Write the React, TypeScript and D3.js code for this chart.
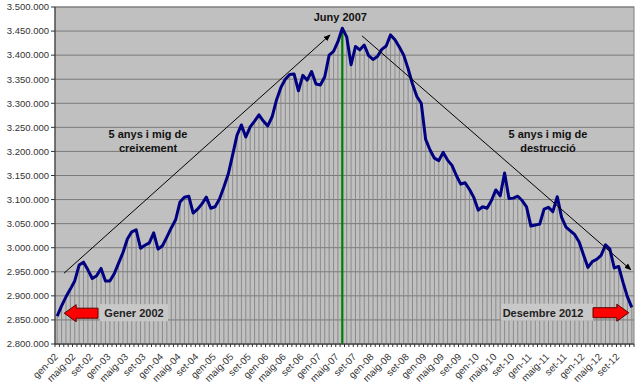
import React from "react";
import * as d3 from "d3";

const monthNames = ["gen", "febr", "març", "abr", "maig", "juny", "jul", "ag", "set", "oct", "nov", "des"];
const years = ["02", "03", "04", "05", "06", "07", "08", "09", "10", "11", "12"];
const categories: string[] = years.flatMap((y) => monthNames.map((m) => `${m}-${y}`));

const values: number[] = [
  2858000, 2879000, 2898000, 2914000, 2931000, 2964000, 2970000, 2954000, 2936000, 2942000, 2957000, 2931000,
  2931000, 2946000, 2968000, 2990000, 3018000, 3033000, 3037000, 2999000, 3005000, 3010000, 3031000, 2997000,
  3004000, 3022000, 3041000, 3058000, 3095000, 3105000, 3107000, 3072000, 3080000, 3091000, 3105000, 3082000,
  3085000, 3101000, 3126000, 3153000, 3193000, 3234000, 3255000, 3230000, 3251000, 3263000, 3276000, 3263000,
  3253000, 3272000, 3307000, 3333000, 3350000, 3360000, 3361000, 3326000, 3358000, 3348000, 3366000, 3340000,
  3338000, 3355000, 3400000, 3408000, 3428000, 3456000, 3438000, 3380000, 3418000, 3411000, 3421000, 3399000,
  3391000, 3397000, 3412000, 3419000, 3442000, 3432000, 3417000, 3400000, 3372000, 3340000, 3314000, 3300000,
  3225000, 3203000, 3186000, 3181000, 3198000, 3182000, 3171000, 3150000, 3132000, 3135000, 3121000, 3104000,
  3078000, 3085000, 3082000, 3098000, 3120000, 3108000, 3155000, 3102000, 3103000, 3107000, 3098000, 3085000,
  3045000, 3047000, 3049000, 3080000, 3084000, 3075000, 3106000, 3063000, 3043000, 3035000, 3027000, 3012000,
  2985000, 2959000, 2971000, 2976000, 2984000, 3006000, 2997000, 2958000, 2961000, 2928000, 2898000, 2876000,
];

const yTicks: number[] = d3.range(2800000, 3500001, 50000);
const peakLabel = "Juny 2007";
const peakIndex = 65;
const startLabel = "Gener 2002";
const endLabel = "Desembre 2012";
const growthText = ["5 anys i mig de", "creixement"];
const declineText = ["5 anys i mig de", "destrucció"];

const W = 640;
const H = 392;
const M = { left: 55, top: 7, right: 6, bottom: 48 };

const fmt = (v: number) => d3.format(",")(v).replace(/,/g, ".");

export default function App() {
  const x = d3
    .scaleBand<number>()
    .domain(values.map((_, i) => i))
    .range([M.left, W - M.right])
    .padding(0);
  const bw = x.bandwidth();
  const cx = (i: number) => (x(i) as number) + bw / 2;
  const y = d3.scaleLinear().domain([2800000, 3500000]).range([H - M.bottom, M.top]);
  const bottom = H - M.bottom;
  const line = d3
    .line<number>()
    .x((_, i) => cx(i))
    .y((d) => y(d));

  const font = "Arial, 'Liberation Sans', sans-serif";

  const a1 = { x1: cx(0) + bw * 1.55, y1: y(2947000), x2: cx(0) + bw * 62.2, y2: y(3442000) };
  const a2 = { x1: cx(0) + bw * 69.5, y1: y(3440000), x2: cx(0) + bw * 130.8, y2: y(2954000) };

  const arrowLeft = (tipX: number, tailX: number, cy: number) => {
    const head = 12;
    const hh = 8.5;
    const bh = 5;
    return `M${tipX},${cy} L${tipX + head},${cy - hh} L${tipX + head},${cy - bh} L${tailX},${cy - bh} L${tailX},${cy + bh} L${tipX + head},${cy + bh} L${tipX + head},${cy + hh} Z`;
  };
  const arrowRight = (tipX: number, tailX: number, cy: number) => {
    const head = 12;
    const hh = 8.5;
    const bh = 5;
    return `M${tipX},${cy} L${tipX - head},${cy - hh} L${tipX - head},${cy - bh} L${tailX},${cy - bh} L${tailX},${cy + bh} L${tipX - head},${cy + bh} L${tipX - head},${cy + hh} Z`;
  };

  const startY = y(2864000);
  const endY = y(2865000);

  return (
    <svg
      width={W}
      height={H}
      style={{ position: "absolute", left: 0, top: 0, background: "#fff" }}
      fontFamily={font}
    >
      <defs>
        <marker id="ah" viewBox="0 0 10 10" refX="9" refY="5" markerWidth="7" markerHeight="7" orient="auto">
          <path d="M0,1 L10,5 L0,9 Z" fill="#000" />
        </marker>
      </defs>
      <rect x={M.left} y={M.top} width={W - M.left - M.right} height={bottom - M.top} fill="#c0c0c0" />
      {yTicks.map((t) => (
        <line key={"g" + t} x1={M.left} x2={W - M.right} y1={y(t)} y2={y(t)} stroke="#7a7a7a" strokeWidth={1} />
      ))}
      {values.map((v, i) => (
        <line key={"d" + i} x1={cx(i)} x2={cx(i)} y1={y(v)} y2={bottom} stroke="#858585" strokeWidth={0.9} />
      ))}
      <line x1={cx(peakIndex)} x2={cx(peakIndex)} y1={y(values[peakIndex])} y2={bottom} stroke="#008000" strokeWidth={2.2} />
      <rect x={100} y={startY - 9} width={68} height={17} fill="#c8c8c8" />
      <rect x={501} y={endY - 9} width={92} height={17} fill="#c8c8c8" />
      <rect x={M.left} y={M.top} width={W - M.left - M.right} height={bottom - M.top} fill="none" stroke="#808080" strokeWidth={1} />
      <line x1={M.left} x2={M.left} y1={M.top} y2={bottom} stroke="#333" />
      {yTicks.map((t) => (
        <g key={"y" + t}>
          <line x1={M.left - 4} x2={M.left} y1={y(t)} y2={y(t)} stroke="#333" />
          <text x={M.left - 6} y={y(t)} dy="0.35em" textAnchor="end" fontSize={9.5} fill="#333">
            {fmt(t)}
          </text>
        </g>
      ))}
      <line x1={M.left} x2={W - M.right} y1={bottom} y2={bottom} stroke="#333" />
      {values.map((_, i) => (
        <line key={"xt" + i} x1={x(i) as number} x2={x(i) as number} y1={bottom} y2={bottom + 3} stroke="#333" />
      ))}
      <line x1={W - M.right} x2={W - M.right} y1={bottom} y2={bottom + 3} stroke="#333" />
      {categories.map((c, i) =>
        i % 4 === 0 ? (
          <text
            key={"xl" + i}
            transform={`translate(${cx(i) - 1},${bottom + 11}) rotate(-45)`}
            textAnchor="end"
            dy="0.35em"
            fontSize={9.8}
            fill="#333"
          >
            {c}
          </text>
        ) : null
      )}
      <path d={line(values) || ""} fill="none" stroke="#000080" strokeWidth={3} strokeLinejoin="round" />
      <line {...a1} stroke="#000" strokeWidth={1} markerEnd="url(#ah)" />
      <line {...a2} stroke="#000" strokeWidth={1} markerEnd="url(#ah)" />
      <text x={cx(peakIndex) - 2} y={21} textAnchor="middle" fontSize={11} fontWeight="bold" fill="#111">
        {peakLabel}
      </text>
      {growthText.map((t, k) => (
        <text key={"gt" + k} x={148} y={138 + k * 14} textAnchor="middle" fontSize={11} fontWeight="bold" fill="#111">
          {t}
        </text>
      ))}
      {declineText.map((t, k) => (
        <text key={"dt" + k} x={548} y={138 + k * 14} textAnchor="middle" fontSize={11} fontWeight="bold" fill="#111">
          {t}
        </text>
      ))}
      <text x={134} y={startY} dy="0.35em" textAnchor="middle" fontSize={11} fontWeight="bold" fill="#222">
        {startLabel}
      </text>
      <text x={543} y={endY} dy="0.35em" textAnchor="middle" fontSize={11} fontWeight="bold" fill="#222">
        {endLabel}
      </text>
      <path d={arrowLeft(cx(0) + 7, 98, startY)} fill="#ff0000" stroke="#600000" strokeWidth={1} />
      <path d={arrowRight(cx(values.length - 1) - 3, 593, endY)} fill="#ff0000" stroke="#600000" strokeWidth={1} />
    </svg>
  );
}
